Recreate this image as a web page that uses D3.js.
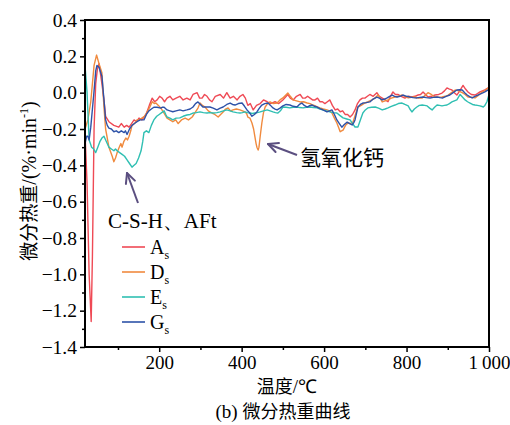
<!DOCTYPE html>
<html><head><meta charset="utf-8">
<script src="https://cdn.jsdelivr.net/npm/d3@7"></script>
<style>
html,body{margin:0;padding:0;background:#fff;}
svg{display:block;}
</style></head>
<body>
<svg id="chart" width="510" height="425"></svg>
<script>
// ---- data (temperature °C, DTG %/min) ----
const xMajorTicks = [200, 400, 600, 800, 1000];
const xMajorLabels = ["200", "400", "600", "800", "1\u2009000"];
const xMinorTicks = [100, 300, 500, 700, 900];
const yMajorTicks = [-1.4, -1.2, -1.0, -0.8, -0.6, -0.4, -0.2, 0.0, 0.2, 0.4];
const yMinorTicks = [-1.3, -1.1, -0.9, -0.7, -0.5, -0.3, -0.1, 0.1, 0.3];

const seriesNames = ["A", "D", "E", "G"];
const seriesColors = ["#ef4a55", "#f08a3e", "#2fbfb2", "#2d52a8"];

const dataAs = [[20,-0.22],[25,-0.5],[30,-1.0],[35,-1.26],[38,-0.9],[42,-0.2],[46,0.05],[50,0.13],[54,0.16],[61,0.05],[66,-0.04],[70,-0.13],[78,-0.16],[90,-0.18],[102,-0.19],[108,-0.17],[115,-0.19],[121,-0.18],[127,-0.19],[133,-0.17],[139,-0.15],[145,-0.16],[151,-0.14],[158,-0.15],[168,-0.12],[176,-0.07],[183,-0.03],[189,-0.05],[195,-0.04],[201,-0.02],[207,-0.03],[213,-0.05],[219,-0.03],[226,-0.02],[233,-0.04],[241,-0.03],[250,-0.02],[258,-0.04],[267,-0.03],[275,-0.04],[282,-0.01],[292,0.0],[298,-0.03],[304,-0.03],[310,-0.01],[316,-0.02],[322,-0.04],[328,-0.05],[336,-0.02],[348,-0.01],[356,-0.03],[364,0.0],[372,-0.03],[380,-0.02],[389,-0.04],[396,-0.02],[403,-0.01],[409,-0.03],[415,-0.07],[421,-0.06],[428,-0.095],[436,-0.07],[445,-0.06],[453,-0.04],[462,-0.05],[470,-0.06],[481,-0.05],[490,-0.06],[500,-0.04],[512,-0.01],[518,-0.03],[525,-0.04],[533,-0.02],[542,-0.01],[548,-0.03],[554,-0.03],[560,-0.02],[566,-0.03],[572,-0.04],[578,-0.04],[584,-0.03],[590,-0.05],[596,-0.05],[602,-0.06],[608,-0.05],[614,-0.04],[620,-0.07],[627,-0.095],[633,-0.09],[639,-0.105],[645,-0.1],[651,-0.12],[657,-0.12],[663,-0.134],[669,-0.12],[675,-0.095],[681,-0.06],[687,-0.04],[693,-0.03],[699,-0.03],[705,-0.02],[711,-0.01],[719,-0.02],[728,0.0],[734,-0.02],[741,-0.03],[748,-0.04],[755,-0.05],[761,-0.02],[767,0.004],[773,-0.01],[779,-0.01],[787,-0.02],[796,-0.03],[804,-0.02],[813,-0.024],[820,-0.02],[828,-0.013],[834,-0.01],[840,0.004],[846,-0.01],[852,-0.024],[860,-0.02],[869,-0.013],[878,-0.01],[886,-0.002],[892,0.01],[898,0.026],[904,0.02],[910,0.015],[916,0.0],[922,-0.013],[929,0.01],[937,0.04],[943,0.02],[949,0.004],[957,-0.01],[966,-0.013],[972,-0.005],[978,0.004],[984,0.01],[990,0.015],[998,0.026]];

const dataDs = [[20,-0.2],[27,-0.15],[34,-0.05],[42,0.15],[48,0.207],[54,0.16],[61,0.11],[66,-0.08],[70,-0.2],[78,-0.3],[86,-0.35],[90,-0.38],[94,-0.36],[98,-0.33],[103,-0.3],[107,-0.28],[110,-0.3],[114,-0.27],[119,-0.25],[123,-0.26],[127,-0.24],[131,-0.21],[134,-0.18],[140,-0.17],[146,-0.15],[152,-0.15],[158,-0.14],[164,-0.13],[170,-0.11],[177,-0.08],[183,-0.05],[188,-0.06],[192,-0.057],[198,-0.07],[204,-0.085],[211,-0.11],[219,-0.14],[226,-0.15],[233,-0.16],[240,-0.15],[246,-0.17],[254,-0.15],[263,-0.14],[271,-0.15],[280,-0.134],[287,-0.11],[294,-0.085],[299,-0.057],[305,-0.07],[311,-0.079],[319,-0.1],[328,-0.112],[335,-0.12],[343,-0.134],[349,-0.12],[355,-0.106],[361,-0.09],[367,-0.084],[373,-0.1],[379,-0.095],[387,-0.09],[396,-0.095],[402,-0.1],[408,-0.106],[412,-0.115],[415,-0.134],[420,-0.14],[425,-0.167],[429,-0.2],[432,-0.24],[435,-0.28],[437,-0.3],[440,-0.316],[442,-0.3],[445,-0.24],[449,-0.167],[453,-0.11],[457,-0.079],[463,-0.06],[469,-0.051],[477,-0.06],[486,-0.057],[493,-0.04],[500,-0.029],[506,-0.015],[512,-0.002],[518,-0.02],[525,-0.04],[533,-0.045],[542,-0.051],[550,-0.05],[559,-0.057],[566,-0.06],[573,-0.068],[581,-0.075],[590,-0.084],[598,-0.09],[607,-0.095],[613,-0.1],[619,-0.112],[625,-0.14],[631,-0.167],[635,-0.19],[639,-0.215],[646,-0.206],[652,-0.18],[658,-0.167],[664,-0.17],[670,-0.162],[676,-0.12],[682,-0.079],[690,-0.07],[699,-0.057],[707,-0.05],[716,-0.04],[723,-0.03],[731,-0.013],[736,-0.03],[741,-0.051],[748,-0.045],[755,-0.04],[763,-0.03],[772,-0.024],[780,-0.02],[789,-0.013],[796,-0.02],[804,-0.029],[812,-0.025],[821,-0.024],[829,-0.03],[838,-0.029],[845,-0.015],[852,0.0],[860,-0.01],[869,-0.024],[877,-0.025],[886,-0.024],[894,-0.02],[901,-0.013],[909,0.0],[918,0.015],[926,0.01],[935,0.0],[942,-0.01],[949,-0.024],[957,-0.025],[966,-0.029],[974,-0.015],[983,0.004],[990,0.01],[998,0.026]];

const dataEs = [[20,0.15],[25,0.0],[30,-0.26],[33,-0.28],[36,-0.3],[41,-0.31],[46,-0.33],[51,-0.3],[56,-0.27],[61,-0.25],[66,-0.24],[72,-0.27],[78,-0.3],[84,-0.31],[90,-0.32],[94,-0.31],[98,-0.32],[104,-0.33],[110,-0.34],[116,-0.35],[122,-0.37],[128,-0.39],[134,-0.41],[139,-0.4],[144,-0.39],[150,-0.36],[156,-0.32],[160,-0.27],[163,-0.22],[169,-0.21],[175,-0.22],[181,-0.18],[187,-0.15],[194,-0.13],[200,-0.12],[206,-0.11],[212,-0.1],[216,-0.12],[219,-0.134],[226,-0.14],[233,-0.15],[241,-0.14],[250,-0.139],[258,-0.13],[267,-0.123],[275,-0.12],[282,-0.112],[290,-0.11],[299,-0.106],[307,-0.11],[316,-0.112],[323,-0.11],[331,-0.112],[340,-0.11],[348,-0.106],[356,-0.1],[364,-0.095],[372,-0.1],[379,-0.106],[388,-0.11],[396,-0.112],[402,-0.11],[408,-0.106],[414,-0.11],[420,-0.112],[426,-0.115],[432,-0.112],[438,-0.11],[445,-0.106],[453,-0.1],[462,-0.095],[469,-0.1],[476,-0.106],[482,-0.11],[488,-0.112],[494,-0.1],[500,-0.079],[508,-0.08],[517,-0.084],[525,-0.08],[534,-0.079],[541,-0.082],[549,-0.084],[557,-0.08],[566,-0.079],[574,-0.082],[583,-0.084],[590,-0.09],[597,-0.095],[605,-0.1],[614,-0.106],[622,-0.11],[631,-0.112],[638,-0.125],[646,-0.139],[655,-0.145],[663,-0.15],[669,-0.17],[675,-0.189],[682,-0.189],[688,-0.15],[694,-0.112],[700,-0.095],[706,-0.084],[715,-0.08],[724,-0.079],[732,-0.085],[741,-0.095],[748,-0.09],[755,-0.084],[763,-0.075],[772,-0.068],[780,-0.06],[789,-0.057],[796,-0.065],[804,-0.073],[808,-0.09],[813,-0.106],[819,-0.09],[825,-0.079],[831,-0.07],[838,-0.068],[844,-0.07],[850,-0.073],[856,-0.085],[862,-0.095],[868,-0.08],[874,-0.068],[880,-0.07],[886,-0.073],[892,-0.07],[898,-0.068],[904,-0.06],[910,-0.051],[916,-0.045],[922,-0.04],[926,-0.025],[930,-0.01],[936,-0.025],[942,-0.04],[948,-0.05],[954,-0.057],[960,-0.065],[966,-0.068],[972,-0.07],[978,-0.073],[983,-0.076],[986,-0.079],[990,-0.07],[995,-0.05],[1000,-0.01]];

const dataGs = [[20,-0.28],[24,-0.24],[27,-0.24],[30,-0.26],[34,-0.19],[38,-0.09],[42,0.01],[46,0.12],[49,0.15],[54,0.14],[61,0.09],[66,-0.04],[70,-0.15],[74,-0.18],[78,-0.195],[84,-0.2],[90,-0.215],[96,-0.21],[102,-0.22],[108,-0.21],[115,-0.22],[118,-0.21],[122,-0.23],[128,-0.2],[134,-0.18],[140,-0.17],[146,-0.16],[154,-0.15],[163,-0.15],[169,-0.12],[175,-0.1],[181,-0.09],[187,-0.08],[195,-0.08],[204,-0.085],[208,-0.08],[212,-0.08],[219,-0.095],[226,-0.1],[233,-0.105],[241,-0.1],[250,-0.095],[258,-0.1],[267,-0.095],[275,-0.09],[282,-0.079],[288,-0.06],[294,-0.051],[300,-0.065],[306,-0.079],[314,-0.078],[323,-0.079],[331,-0.085],[340,-0.095],[348,-0.085],[355,-0.079],[364,-0.065],[372,-0.057],[378,-0.065],[384,-0.068],[392,-0.06],[401,-0.057],[407,-0.075],[413,-0.095],[419,-0.11],[425,-0.13],[431,-0.12],[437,-0.106],[443,-0.085],[449,-0.068],[456,-0.06],[464,-0.057],[470,-0.07],[476,-0.084],[481,-0.09],[486,-0.095],[493,-0.085],[500,-0.073],[508,-0.065],[517,-0.068],[525,-0.075],[534,-0.079],[540,-0.065],[546,-0.057],[552,-0.07],[559,-0.079],[565,-0.072],[571,-0.068],[577,-0.075],[583,-0.079],[590,-0.088],[597,-0.095],[602,-0.1],[607,-0.106],[613,-0.1],[619,-0.095],[625,-0.12],[631,-0.15],[637,-0.17],[643,-0.19],[649,-0.175],[656,-0.162],[662,-0.17],[668,-0.178],[672,-0.165],[675,-0.15],[679,-0.11],[682,-0.079],[688,-0.065],[694,-0.057],[702,-0.055],[711,-0.051],[719,-0.035],[728,-0.024],[734,-0.03],[741,-0.04],[747,-0.035],[753,-0.029],[759,-0.02],[765,-0.013],[771,-0.02],[777,-0.024],[784,-0.02],[791,-0.013],[800,-0.02],[808,-0.024],[816,-0.027],[825,-0.029],[832,-0.026],[840,-0.024],[848,-0.027],[857,-0.029],[865,-0.026],[874,-0.024],[881,-0.027],[888,-0.029],[896,-0.02],[905,-0.013],[913,0.0],[922,0.015],[929,0.016],[935,0.015],[941,0.0],[947,-0.013],[953,-0.022],[959,-0.029],[966,-0.02],[973,-0.013],[981,-0.005],[990,0.004],[998,0.015]];

const allSeries = [dataAs, dataDs, dataEs, dataGs];

// ---- layout ----
const svg = d3.select("#chart");
const L = 85, R = 489, T = 20, B = 347;
const x = d3.scaleLinear().domain([20, 1000]).range([L, R]);
const y = d3.scaleLinear().domain([-1.4, 0.4]).range([B, T]);
const serif = "'Liberation Serif','Times New Roman',serif";
const cjk = "'Noto Sans CJK SC','Noto Sans CJK JP',sans-serif";
const fmt = v => (v < 0 ? "\u2212" : "") + Math.abs(v).toFixed(1);

svg.append("defs").append("clipPath").attr("id", "clip")
  .append("rect").attr("x", L).attr("y", T).attr("width", R - L).attr("height", B - T);

// lines
const line = d3.line().x(d => x(d[0])).y(d => y(d[1]));
const gl = svg.append("g").attr("clip-path", "url(#clip)");
allSeries.forEach((s, i) => {
  gl.append("path").datum(s).attr("d", line)
    .attr("fill", "none").attr("stroke", seriesColors[i])
    .attr("stroke-width", 1.4).attr("stroke-linejoin", "round");
});

// axes
const xAxis = svg.append("g").attr("transform", `translate(0,${B})`)
  .call(d3.axisBottom(x).tickValues(xMajorTicks).tickFormat((d, i) => xMajorLabels[i]).tickSize(5).tickPadding(4));
const xMinor = svg.append("g").attr("transform", `translate(0,${B})`)
  .call(d3.axisBottom(x).tickValues(xMinorTicks).tickFormat("").tickSize(3));
const yAxis = svg.append("g").attr("transform", `translate(${L},0)`)
  .call(d3.axisLeft(y).tickValues(yMajorTicks).tickFormat(fmt).tickSize(5).tickPadding(3));
const yMinor = svg.append("g").attr("transform", `translate(${L},0)`)
  .call(d3.axisLeft(y).tickValues(yMinorTicks).tickFormat("").tickSize(3));
[xAxis, xMinor, yAxis, yMinor].forEach(g => {
  g.select(".domain").remove();
  g.selectAll("line").attr("stroke", "#000").attr("stroke-width", 1.5);
  g.selectAll("text").attr("font-family", serif).attr("font-size", 19.5).attr("fill", "#000");
});
xAxis.selectAll("text").attr("font-size", 19);

// frame
svg.append("rect").attr("x", L).attr("y", T).attr("width", R - L).attr("height", B - T)
  .attr("fill", "none").attr("stroke", "#000").attr("stroke-width", 2);

// axis titles
const xt = svg.append("text").attr("x", 287).attr("y", 393).attr("text-anchor", "middle")
  .attr("font-family", cjk).attr("font-size", 18);
xt.append("tspan").text("温度");
xt.append("tspan").attr("font-family", serif).attr("font-size", 19).text("/℃");
const cap = svg.append("text").attr("x", 283).attr("y", 418).attr("text-anchor", "middle")
  .attr("font-family", cjk).attr("font-size", 18);
cap.append("tspan").attr("font-family", serif).attr("font-size", 19).text("(b) ");
cap.append("tspan").text("微分热重曲线");
const yt = svg.append("text").attr("transform", "translate(36,181) rotate(-90)")
  .attr("text-anchor", "middle").attr("font-family", cjk).attr("font-size", 19);
yt.append("tspan").text("微分热重");
yt.append("tspan").attr("font-family", serif).attr("font-size", 20).text("/(%·min");
yt.append("tspan").attr("font-family", serif).attr("font-size", 12).attr("dy", -8).text("-1");
yt.append("tspan").attr("font-family", serif).attr("font-size", 20).attr("dy", 8).text(")");

// annotations
const arrowColor = "#5b4f80";
function arrow(x1, y1, x2, y2) {
  svg.append("line").attr("x1", x1).attr("y1", y1).attr("x2", x2).attr("y2", y2)
    .attr("stroke", arrowColor).attr("stroke-width", 2);
  const a = Math.atan2(y1 - y2, x1 - x2), len = 11, sp = 0.45;
  [a - sp, a + sp].forEach(b => {
    svg.append("line").attr("x1", x2).attr("y1", y2)
      .attr("x2", x2 + len * Math.cos(b)).attr("y2", y2 + len * Math.sin(b))
      .attr("stroke", arrowColor).attr("stroke-width", 2).attr("stroke-linecap", "round");
  });
}
arrow(297, 155, 268, 144);
arrow(138, 203, 127, 173);
svg.append("text").attr("x", 300).attr("y", 165).attr("font-family", cjk).attr("font-size", 21).text("氢氧化钙");
svg.append("text").attr("x", 108).attr("y", 228).attr("font-family", serif).attr("font-size", 21).text("C-S-H、AFt");

// legend
seriesNames.forEach((n, i) => {
  const ly = 247 + i * 25;
  svg.append("line").attr("x1", 122).attr("x2", 145).attr("y1", ly).attr("y2", ly)
    .attr("stroke", seriesColors[i]).attr("stroke-width", 1.6);
  const t = svg.append("text").attr("x", 150).attr("y", ly + 7).attr("font-family", serif).attr("font-size", 20);
  t.append("tspan").text(n);
  t.append("tspan").attr("font-size", 12).attr("dy", 5).text("s");
});
</script>
</body></html>
